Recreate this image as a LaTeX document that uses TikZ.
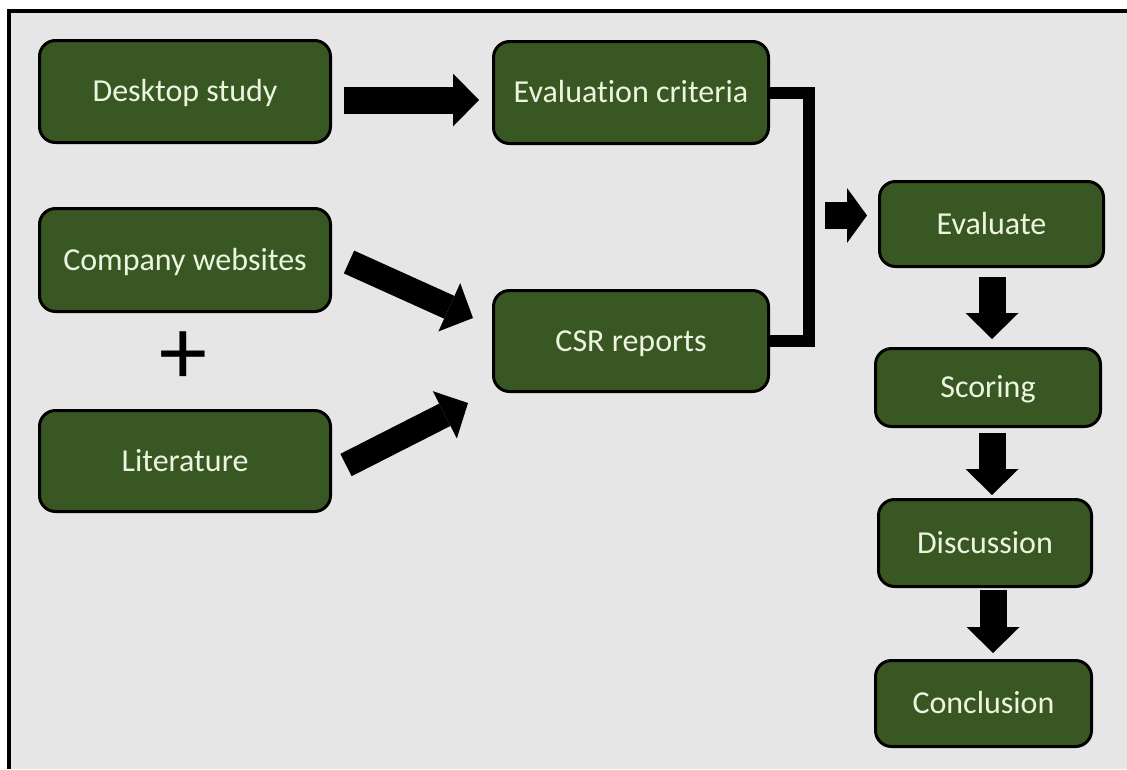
\documentclass[tikz,border=0pt]{standalone}
\usepackage{fontspec}
\setmainfont{Carlito}[Ligatures=NoCommon]
\usetikzlibrary{arrows.meta,calc}
\definecolor{boxgreen}{HTML}{385723}
\definecolor{boxtext}{HTML}{EDF5E1}
\definecolor{bggray}{HTML}{E7E6E6}
\begin{document}
\begin{tikzpicture}[x=1pt,y=-1pt,
  box/.style 2 args={draw=black, line width=3pt, fill=boxgreen, rounded corners=16pt,
    text=boxtext, font=\fontsize{32}{38}\selectfont, inner sep=0pt,
    text height=20pt, text depth=0pt, minimum width=#1, minimum height=#2},
  bigarrow/.style={draw=black, line width=27pt, -{Triangle[length=26pt,width=53pt,line width=0pt]}},
  diagarrow/.style={draw=black, line width=25pt, -{Triangle[length=26pt,width=53pt,line width=0pt]}},
  smallarrow/.style={draw=black, line width=27pt, -{Triangle[length=20pt,width=55pt,line width=0pt]}},
  joinline/.style={draw=black, line width=12pt, line join=miter}]
\useasboundingbox (0,0) rectangle (1127,769);
\fill[white] (0,0) rectangle (1127,769);
\fill[bggray] (7,10) rectangle (1127,769);
\draw[line width=4pt] (8.5,769) -- (8.5,11) -- (1127,11);

\node[box={291}{102}] (ds)  at (185,91.5) {Desktop study};
\node[box={291}{103}] (cw)  at (185,260) {Company websites};
\node[font=\fontsize{96}{96}\selectfont, inner sep=0pt] (plus) at (183,358) {+};
\node[box={291}{101}] (lit) at (185,461) {Literature};
\node[box={275}{102}] (ec)  at (631,92.5) {Evaluation criteria};
\node[box={275}{101}] (csr) at (631,341) {CSR reports};
\node[box={224}{85}]  (ev)  at (991.5,224) {Evaluate};
\node[box={225}{78}]  (sc)  at (988,387.5) {Scoring};
\node[box={213}{87}]  (di)  at (985,543) {Discussion};
\node[box={216}{86}]  (co)  at (983.5,703.5) {Conclusion};

\coordinate (jx) at (809,215.5);

\draw[bigarrow] ($(ds.east)+(12,8.5)$) -- ($(ec.west)+(-13,7.5)$);
\draw[diagarrow] ($(cw.east)+(17,2)$) -- ($(csr.west)+(-19,-23)$);
\draw[diagarrow] ($(lit.east)+(14,4)$) -- ($(csr.west)+(-24,62)$);
\draw[joinline] (ec.east) -| (jx) |- (csr.east);
\draw[smallarrow] ($(jx)+(16,0)$) -- ($(ev.west)+(-11,-8.5)$);
\draw[bigarrow] ($(ev.south)+(0.5,9)$) -- ($(sc.north)+(4,-8)$);
\draw[bigarrow] ($(sc.south)+(4,5)$) -- ($(di.north)+(7,-3)$);
\draw[bigarrow] ($(di.south)+(8,2)$) -- ($(co.north)+(9.5,-6)$);
\end{tikzpicture}
\end{document}
